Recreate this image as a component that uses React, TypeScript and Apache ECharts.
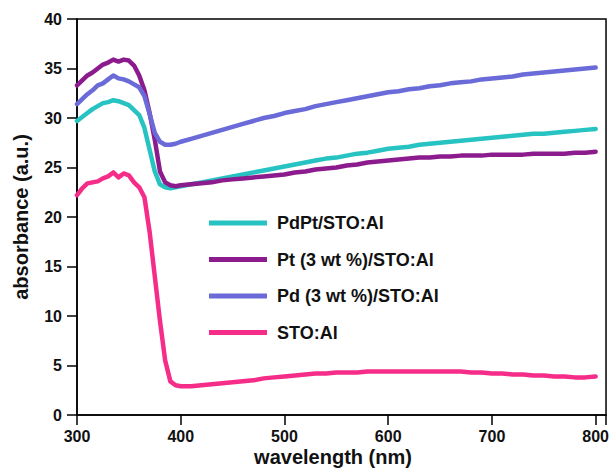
import React, { useEffect, useRef } from "react";
import * as echarts from "echarts";

const wavelengths = [
  300, 305, 310, 315, 320, 325, 330, 335, 340, 345, 350, 355, 360, 365, 370, 375, 380, 385, 390, 395, 400,
  410, 420, 430, 440, 450, 460, 470, 480, 490, 500, 510, 520, 530, 540, 550, 560, 570, 580, 590, 600,
  610, 620, 630, 640, 650, 660, 670, 680, 690, 700, 710, 720, 730, 740, 750, 760, 770, 780, 790, 800,
];

const pdptSTO = [
  29.7, 30.1, 30.5, 30.9, 31.2, 31.5, 31.6, 31.8, 31.7, 31.5, 31.3, 30.8, 30.3, 29.0, 26.8, 24.6, 23.3, 23.0, 22.9, 23.0, 23.1,
  23.3, 23.5, 23.7, 23.9, 24.1, 24.3, 24.5, 24.7, 24.9, 25.1, 25.3, 25.5, 25.7, 25.9, 26.0, 26.2, 26.4, 26.5, 26.7, 26.9,
  27.0, 27.1, 27.3, 27.4, 27.5, 27.6, 27.7, 27.8, 27.9, 28.0, 28.1, 28.2, 28.3, 28.4, 28.4, 28.5, 28.6, 28.7, 28.8, 28.9,
];

const ptSTO = [
  33.3, 33.8, 34.3, 34.6, 35.0, 35.4, 35.6, 35.9, 35.7, 35.9, 35.8, 35.3, 34.3, 32.8, 30.5, 27.8, 24.6, 23.5, 23.2, 23.1, 23.2,
  23.3, 23.4, 23.5, 23.7, 23.8, 23.9, 24.0, 24.1, 24.2, 24.3, 24.5, 24.6, 24.8, 24.9, 25.0, 25.2, 25.3, 25.5, 25.6, 25.7,
  25.8, 25.9, 26.0, 26.0, 26.1, 26.1, 26.2, 26.2, 26.2, 26.3, 26.3, 26.3, 26.3, 26.4, 26.4, 26.4, 26.4, 26.5, 26.5, 26.6,
];

const pdSTO = [
  31.4, 31.9, 32.4, 32.8, 33.3, 33.5, 33.9, 34.3, 34.0, 33.9, 33.7, 33.4, 33.1, 32.2, 30.4, 28.5, 27.6, 27.3, 27.3, 27.4, 27.6,
  27.9, 28.2, 28.5, 28.8, 29.1, 29.4, 29.7, 30.0, 30.2, 30.5, 30.7, 30.9, 31.2, 31.4, 31.6, 31.8, 32.0, 32.2, 32.4, 32.6,
  32.7, 32.9, 33.0, 33.2, 33.3, 33.5, 33.6, 33.7, 33.9, 34.0, 34.1, 34.2, 34.4, 34.5, 34.6, 34.7, 34.8, 34.9, 35.0, 35.1,
];

const stoAl = [
  22.2, 22.9, 23.4, 23.5, 23.6, 23.9, 24.1, 24.5, 24.0, 24.4, 24.2, 23.5, 23.0, 22.0, 18.5, 14.0, 9.5, 5.5, 3.4, 3.0, 2.9,
  2.9, 3.0, 3.1, 3.2, 3.3, 3.4, 3.5, 3.7, 3.8, 3.9, 4.0, 4.1, 4.2, 4.2, 4.3, 4.3, 4.3, 4.4, 4.4, 4.4,
  4.4, 4.4, 4.4, 4.4, 4.4, 4.4, 4.4, 4.3, 4.3, 4.2, 4.2, 4.1, 4.1, 4.0, 4.0, 3.9, 3.9, 3.8, 3.8, 3.9,
];

const seriesNames = ["PdPt/STO:Al", "Pt (3 wt %)/STO:Al", "Pd (3 wt %)/STO:Al", "STO:Al"];
const seriesColors = ["#27C3C2", "#8C1C8E", "#6A6AD8", "#F52D88"];
const xTicks = [300, 400, 500, 600, 700, 800];
const yTicks = [0, 5, 10, 15, 20, 25, 30, 35, 40];

const FONT = "'Liberation Sans', Arial, Helvetica, sans-serif";

export default function App() {
  const ref = useRef<HTMLDivElement>(null);
  useEffect(() => {
    if (!ref.current) return;
    const chart = echarts.init(ref.current, null, { renderer: "svg" });
    const values = [pdptSTO, ptSTO, pdSTO, stoAl];
    const zs = [3, 4, 5, 2];
    const series = seriesNames.map((name, i) => ({
      name,
      type: "line",
      data: wavelengths.map((w, j) => [w, values[i][j]]),
      showSymbol: false,
      symbol: "none",
      lineStyle: { width: 4.5, color: seriesColors[i], join: "round", cap: "round" },
      itemStyle: { color: seriesColors[i] },
      z: zs[i],
    }));
    chart.setOption({
      animation: false,
      backgroundColor: "#ffffff",
      grid: {
        left: 77,
        right: 4,
        top: 19,
        bottom: 53,
        show: true,
        borderColor: "#000",
        borderWidth: 1.5,
        backgroundColor: "transparent",
      },
      legend: {
        data: seriesNames,
        orient: "vertical",
        left: 209,
        top: 214,
        padding: 0,
        itemWidth: 58,
        itemHeight: 5,
        itemGap: 18.5,
        icon: "rect",
        textStyle: {
          fontFamily: FONT,
          fontSize: 18,
          fontWeight: "bold",
          color: "#111",
          lineHeight: 18,
          padding: [0, 0, 0, 5],
        },
      },
      xAxis: {
        type: "value",
        min: xTicks[0],
        max: 810,
        interval: 100,
        splitLine: { show: false },
        axisLine: { show: true, onZero: false, lineStyle: { color: "#000", width: 1.5 } },
        axisTick: { show: true, inside: false, length: 10, lineStyle: { color: "#000", width: 1.5 } },
        axisLabel: {
          margin: 13,
          fontFamily: FONT,
          fontSize: 16,
          fontWeight: "bold",
          color: "#111",
          formatter: (v: number) => (xTicks.includes(v) ? String(v) : ""),
        },
      },
      yAxis: {
        type: "value",
        min: yTicks[0],
        max: yTicks[yTicks.length - 1],
        interval: 5,
        splitLine: { show: false },
        axisLine: { show: true, onZero: false, lineStyle: { color: "#000", width: 1.5 } },
        axisTick: { show: true, inside: false, length: 10, lineStyle: { color: "#000", width: 1.5 } },
        axisLabel: {
          margin: 15,
          fontFamily: FONT,
          fontSize: 16,
          fontWeight: "bold",
          color: "#111",
        },
      },
      graphic: [
        {
          type: "text",
          x: 333,
          y: 457,
          style: {
            text: "wavelength (nm)",
            fontFamily: FONT,
            fontSize: 20,
            fontWeight: "bold",
            fill: "#111",
            textAlign: "center",
            textVerticalAlign: "middle",
          },
        },
        {
          type: "text",
          x: 21,
          y: 217,
          rotation: Math.PI / 2,
          style: {
            text: "absorbance (a.u.)",
            fontFamily: FONT,
            fontSize: 20,
            fontWeight: "bold",
            fill: "#111",
            textAlign: "center",
            textVerticalAlign: "middle",
          },
        },
      ],
      series,
    });
    return () => chart.dispose();
  }, []);
  return (
    <div
      ref={ref}
      style={{ position: "fixed", left: 0, top: 0, width: 612, height: 468, background: "#fff" }}
    />
  );
}
